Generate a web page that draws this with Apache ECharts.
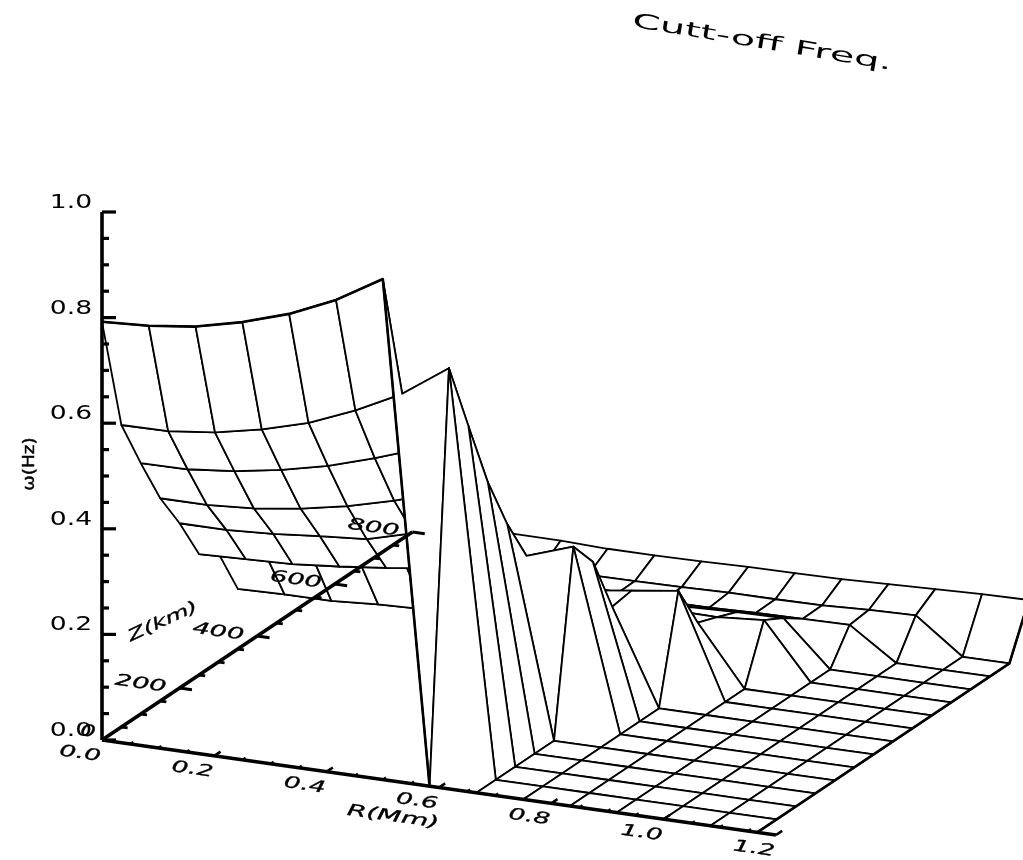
<!DOCTYPE html>
<html>
<head>
<meta charset="utf-8">
<style>html,body{margin:0;padding:0;background:#fff}#c{width:1023px;height:860px}</style>
<script src="https://cdn.jsdelivr.net/npm/echarts@6/dist/echarts.min.js"></script>
</head>
<body>
<div id="c"></div>
<script>
// Node positions of the mesh
const rNodes = [0,0.0833,0.1667,0.25,0.3333,0.4167,0.5,0.5833,0.6667,0.75,0.8333,0.9167,1.0,1.0833,1.1667];
const zNodes = [0,50,100,150,200,250,300,350,400,450,500,550,600,650,700];
// Cut-off frequency, one row per R node, one column per Z node
const w0  = [.792,.572,.475,.384,.312,.229,.206,.114,.105,.100,.095,.090,.088,.086,.085];
const w1  = [.797,.573,.476,.384,.312,.232,.218,.116,.105,.100,.095,.090,.088,.086,.085];
const w2  = [.808,.583,.485,.390,.317,.235,.226,.116,.108,.100,.095,.090,.088,.086,.085];
const w3  = [.829,.601,.500,.402,.325,.243,.231,.122,.110,.100,.095,.090,.080,.055,.083];
const w4  = [.857,.626,.520,.419,.332,.253,.234,.125,.115,.105,.095,.090,.070,.055,.083];
const w5  = [.896,.662,.547,.442,.356,.265,.245,.130,.120,.110,.095,.085,.060,.055,.080];
const w6  = [.948,.706,.578,.470,.384,.282,.260,.140,.125,.110,.095,.080,.055,.056,.080];
const w7  = [0,.767,.633,.502,.398,.313,.260,.210,.174,.150,.120,.090,.055,.057,.081];
const w8  = [0,0,0,0,0,.343,.290,.180,.186,.144,.100,.081,.055,.059,.083];
const w9  = [0,0,0,0,0,0,0,0,.198,.113,.099,.084,.058,.059,.084];
const w10 = [0,0,0,0,0,0,0,0,0,0,.106,.085,.059,.060,.085];
const w11 = [0,0,0,0,0,0,0,0,0,0,0,0,.060,.064,.088];
const w12 = [0,0,0,0,0,0,0,0,0,0,0,0,0,.066,.091];
const w13 = [0,0,0,0,0,0,0,0,0,0,0,0,0,0,.094];
const w14 = [0,0,0,0,0,0,0,0,0,0,0,0,0,0,.0955];
const omega = [w0,w1,w2,w3,w4,w5,w6,w7,w8,w9,w10,w11,w12,w13,w14];
// Axis ticks
const rTicks = [0,0.2,0.4,0.6,0.8,1.0,1.2];
const zTicks = [0,200,400,600,800];
const wTicks = [0,0.2,0.4,0.6,0.8,1.0];
const rMinor = [0.05,0.1,0.15,0.25,0.3,0.35,0.45,0.5,0.55,0.65,0.7,0.75,0.85,0.9,0.95,1.05,1.1,1.15];
const zMinor = [50,100,150,250,300,350,450,500,550,650,700,750];
const wMinor = [0.05,0.1,0.15,0.25,0.3,0.35,0.45,0.5,0.55,0.65,0.7,0.75,0.85,0.9,0.95];

// Fixed oblique projection of (R, Z, omega) onto the plot plane
function proj(R, Z, w){
  return [102 + 561.6*R + 0.388*Z, 740 + 79.2*R - 0.26*Z - 528*w];
}
const MESH = 1.8;
// cells, far to near
const cells = [];
for (let j = zNodes.length-2; j >= 0; j--) for (let i = 0; i < rNodes.length-1; i++) cells.push([i,j]);

function node(api, i, j){ return api.coord(proj(rNodes[i], zNodes[j], omega[i][j])); }
function renderCell(params, api){
  const i = api.value(0), j = api.value(1);
  const pts = [[i,j],[i+1,j],[i+1,j+1],[i,j+1]].map(p => node(api, p[0], p[1]));
  return {type:'polygon', shape:{points:pts},
    style:{fill:'#fff', stroke:'#000', lineWidth:MESH, lineJoin:'round'}};
}
function renderEdges(params, api){
  const front = [], right = [];
  for (let i = 0; i <= 7; i++) front.push(node(api, i, 0));
  for (let j = 0; j < zNodes.length; j++) right.push(node(api, rNodes.length-1, j));
  const st = {fill:null, stroke:'#000', lineWidth:2.6, lineJoin:'round'};
  return {type:'group', children:[
    {type:'polyline', shape:{points:front}, style:st},
    {type:'polyline', shape:{points:right}, style:st}
  ]};
}
function seg(api, a, b, lw){
  const p = api.coord(a), q = api.coord(b);
  return {type:'line', shape:{x1:p[0],y1:p[1],x2:q[0],y2:q[1]}, style:{stroke:'#000', lineWidth:lw, lineCap:'butt'}};
}
function renderAxes(params, api){
  const ch = [
    seg(api, proj(0,0,0), proj(0,0,1), 3.6),
    seg(api, proj(0,0,0), proj(0,800,0), 3.6),
    seg(api, proj(0,0,0), proj(1.2,0,0), 3.6)
  ];
  wTicks.forEach(t => { const a = proj(0,0,t); ch.push(seg(api, a, [a[0]+14,a[1]], 3.2)); });
  wMinor.forEach(t => { const a = proj(0,0,t); ch.push(seg(api, a, [a[0]+7,a[1]], 3.2)); });
  zTicks.slice(1).forEach(t => ch.push(seg(api, proj(0,t,0), proj(0.022,t,0), 2.8)));
  zMinor.forEach(t => ch.push(seg(api, proj(0,t,0), proj(0.011,t,0), 2.8)));
  rTicks.slice(1).forEach(t => ch.push(seg(api, proj(t,0,0), proj(t,16,0), 2.6)));
  rMinor.forEach(t => ch.push(seg(api, proj(t,0,0), proj(t,8,0), 2.2)));
  return {type:'group', children:ch};
}
const FONT = '"DejaVu Sans", sans-serif';
function label(api, at, dx, dy, text, deg, sx, sy, size, italic, heavy){
  const p = api.coord(at);
  return {type:'text', x:p[0]+dx, y:p[1]+dy, rotation:deg*Math.PI/180, scaleX:sx, scaleY:sy,
    style:{text:text, fill:'#000', align:'center', verticalAlign:'middle',
      stroke: heavy ? '#000' : null, lineWidth: heavy || 0,
      font:(italic?'italic ':'')+size+'px '+FONT}};
}
function renderLabels(params, api){
  const ch = [];
  wTicks.forEach(t => ch.push(label(api, proj(0,0,t), -31, -9, t.toFixed(1), 0, 1.4, 1, 19)));
  rTicks.forEach(t => ch.push(label(api, proj(t,0,0), -22, 14, t.toFixed(1), -8, 1.65, 1, 16, true, 0.3)));
  zTicks.forEach(t => ch.push(label(api, proj(0,t,0), t ? -39 : -14, t ? -4 : -8, String(t), -8, t ? 1.7 : 1.5, 1, 16, true, 0.3)));
  ch.push(label(api, [393,817], 0, 0, 'R(Mm)', -8, 1.75, 1, 16, true, 0.3));
  ch.push(label(api, [163,622], 0, 0, 'Z(km)', 25, 1.55, 1, 16, true, 0.3));
  ch.push(label(api, [30,464], 0, 0, 'ω(Hz)', 90, 1.15, 1, 16, false, 0.4));
  ch.push(label(api, [762,43], 0, 0, 'Cutt-off Freq.', -9.5, 2.0, 1, 20));
  return {type:'group', children:ch};
}

const chart = echarts.init(document.getElementById('c'), null, {renderer:'canvas'});
chart.setOption({
  animation:false,
  backgroundColor:'#fff',
  grid:{left:0,right:0,top:0,bottom:0,containLabel:false},
  xAxis:{type:'value',min:0,max:1023,show:false},
  yAxis:{type:'value',min:0,max:860,inverse:true,show:false},
  tooltip:{show:false},
  series:[
    {type:'custom',coordinateSystem:'cartesian2d',clip:false,silent:true,renderItem:renderCell,data:cells,encode:{x:0,y:1}, z:2},
    {type:'custom',coordinateSystem:'cartesian2d',clip:false,silent:true,renderItem:renderEdges,data:[[0,0]],encode:{x:0,y:1}, z:3},
    {type:'custom',coordinateSystem:'cartesian2d',clip:false,silent:true,renderItem:renderAxes,data:[[0,0]],encode:{x:0,y:1}, z:4},
    {type:'custom',coordinateSystem:'cartesian2d',clip:false,silent:true,renderItem:renderLabels,data:[[0,0]],encode:{x:0,y:1}, z:5}
  ]
});
</script>
</body>
</html>
